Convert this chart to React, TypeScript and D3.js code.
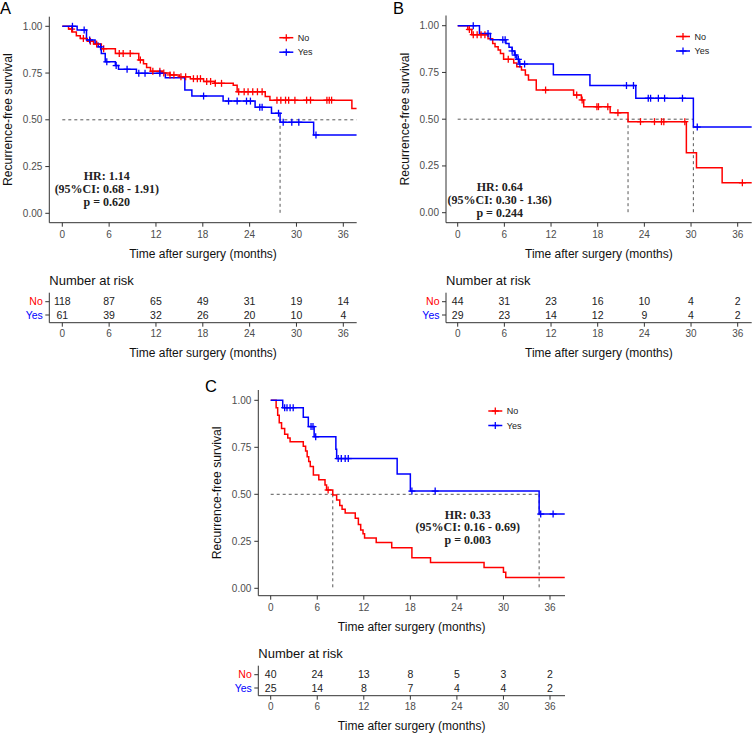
import React from "react";
import * as d3 from "d3";

// ---------- shared ticks ----------
const T_TICKS = [0, 6, 12, 18, 24, 30, 36];
const Y_TICKS = [0, 0.25, 0.5, 0.75, 1];
const GROUPS = ["No", "Yes"];

// ---------- Panel A ----------
const A_NO_TIME = [0, 0.8, 1.3, 1.8, 2.3, 3.2, 4.0, 5.0, 6.8, 9.8, 10.4, 10.8, 11.3, 12.8, 13.8, 15.0, 16.4, 18.1, 19.5, 21.9, 22.4, 26.0, 26.6, 37.1];
const A_NO_SURV = [1, 0.985, 0.97, 0.95, 0.935, 0.92, 0.905, 0.88, 0.855, 0.82, 0.8, 0.78, 0.76, 0.75, 0.74, 0.73, 0.72, 0.705, 0.695, 0.685, 0.65, 0.625, 0.605, 0.56];
const A_NO_CENSOR = [1.2, 2.7, 3.6, 4.4, 5.3, 7.3, 7.8, 8.7, 10.0, 11.6, 12.5, 13.0, 13.8, 14.3, 15.2, 15.8, 16.8, 17.3, 17.7, 18.5, 19.0, 19.6, 20.4, 22.6, 23.3, 23.8, 24.4, 25.0, 25.6, 27.5, 28.0, 28.6, 29.0, 29.8, 31.3, 31.8, 33.9, 34.2, 34.5];
const A_YES_TIME = [0, 1.9, 3.1, 4.2, 4.6, 5.0, 5.5, 6.8, 7.2, 9.5, 13.2, 15.7, 16.6, 20.6, 24.7, 26.8, 27.9, 32.2];
const A_YES_SURV = [1, 0.98, 0.927, 0.909, 0.89, 0.855, 0.81, 0.79, 0.77, 0.749, 0.725, 0.66, 0.627, 0.6, 0.567, 0.535, 0.487, 0.419];
const A_YES_CENSOR = [1.3, 2.8, 3.5, 4.9, 5.7, 6.9, 8.3, 9.8, 10.6, 12.5, 18.1, 21.3, 22.4, 23.6, 24.1, 25.3, 25.6, 27.7, 28.3, 29.4, 30.3, 32.5];
const A_END = 37.7;
const A_RISK_NO = [118, 87, 65, 49, 31, 19, 14];
const A_RISK_YES = [61, 39, 32, 26, 20, 10, 4];
const A_STATS = ["HR: 1.14", "(95%CI: 0.68 - 1.91)", "p = 0.620"];

// ---------- Panel B ----------
const B_NO_TIME = [0, 1.3, 1.8, 3.9, 4.5, 4.8, 5.2, 5.5, 5.9, 7.2, 7.6, 8.2, 8.7, 9.1, 10.1, 14.9, 15.9, 16.2, 19.6, 21.9, 29.4, 30.7, 34.0];
const B_NO_SURV = [1, 0.98, 0.952, 0.93, 0.905, 0.888, 0.87, 0.852, 0.82, 0.8, 0.781, 0.763, 0.736, 0.71, 0.656, 0.629, 0.603, 0.567, 0.534, 0.487, 0.321, 0.24, 0.16];
const B_NO_CENSOR = [1.5, 2.0, 2.5, 3.0, 3.5, 6.5, 11.3, 15.3, 16.0, 17.9, 18.1, 19.3, 20.6, 23.5, 25.3, 26.2, 26.5, 29.2, 36.6];
const B_YES_TIME = [0, 2.8, 4.2, 6.2, 6.6, 7.0, 7.3, 7.6, 7.9, 12.3, 17.0, 22.9, 30.3];
const B_YES_SURV = [1, 0.958, 0.925, 0.905, 0.885, 0.865, 0.843, 0.82, 0.795, 0.738, 0.68, 0.612, 0.458];
const B_YES_CENSOR = [2.0, 3.9, 5.8, 6.1, 7.0, 7.4, 7.8, 8.0, 8.6, 21.7, 22.6, 24.5, 24.8, 25.8, 26.6, 28.9, 30.8];
const B_END = 37.8;
const B_RISK_NO = [44, 31, 23, 16, 10, 4, 2];
const B_RISK_YES = [29, 23, 14, 12, 9, 4, 2];
const B_STATS = ["HR: 0.64", "(95%CI: 0.30 - 1.36)", "p = 0.244"];

// ---------- Panel C ----------
const C_NO_TIME = [0, 0.7, 0.9, 1.1, 1.4, 1.8, 2.2, 2.5, 4.2, 4.5, 4.7, 4.9, 5.1, 5.5, 6.2, 7.0, 7.2, 8.0, 8.5, 8.9, 9.2, 9.6, 10.9, 11.3, 11.6, 11.9, 12.1, 13.6, 15.6, 18.2, 20.6, 27.5, 30.0, 30.3];
const C_NO_SURV = [1, 0.96, 0.92, 0.88, 0.85, 0.82, 0.8, 0.78, 0.755, 0.73, 0.7, 0.675, 0.648, 0.603, 0.578, 0.55, 0.523, 0.496, 0.47, 0.44, 0.42, 0.4, 0.372, 0.34, 0.31, 0.29, 0.268, 0.243, 0.216, 0.163, 0.137, 0.11, 0.085, 0.058];
const C_NO_CENSOR = [7.4];
const C_YES_TIME = [0, 1.55, 4.2, 4.85, 5.6, 8.4, 8.5, 16.3, 18.0, 34.6];
const C_YES_SURV = [1, 0.961, 0.91, 0.86, 0.806, 0.74, 0.69, 0.608, 0.517, 0.395];
const C_YES_CENSOR = [1.8, 2.1, 2.5, 2.9, 5.2, 5.45, 5.8, 8.7, 9.1, 9.6, 10.0, 18.2, 21.2, 34.8, 36.4];
const C_END = 37.9;
const C_RISK_NO = [40, 24, 13, 8, 5, 3, 2];
const C_RISK_YES = [25, 14, 8, 7, 4, 4, 2];
const C_STATS = ["HR: 0.33", "(95%CI: 0.16 - 0.69)", "p = 0.003"];

const RED = "#FF0000";
const BLUE = "#0000FF";
const SANS = "'Liberation Sans', Arial, sans-serif";
const SERIF = "'Liberation Serif', 'Times New Roman', serif";
const AXIS = "#333333";
const TXT = "#4D4D4D";

type Layout = {
  label: string;
  lx: number; ly: number;
  axL: number; axR: number; x0: number; x36: number;
  axT: number; axB: number; y1: number; y0: number;
  statT: number; statS: number;
};

type Series = { time: number[]; surv: number[]; censor: number[] };

function survAt(s: Series, t: number) {
  let v = s.surv[0];
  for (let i = 0; i < s.time.length; i++) if (s.time[i] <= t) v = s.surv[i];
  return v;
}
function median(s: Series): number | null {
  for (let i = 0; i < s.time.length; i++) if (s.surv[i] <= 0.5) return s.time[i];
  return null;
}

function Panel({ L, no, yes, end, riskNo, riskYes, stats }: {
  L: Layout; no: Series; yes: Series; end: number; riskNo: number[]; riskYes: number[]; stats: string[];
}) {
  const x = d3.scaleLinear().domain([0, 36]).range([L.x0, L.x36]);
  const y = d3.scaleLinear().domain([0, 1]).range([L.y0, L.y1]);
  const line = d3.line<[number, number]>().x(d => x(d[0])).y(d => y(d[1])).curve(d3.curveStepAfter);
  const series = [{ s: no, c: RED }, { s: yes, c: BLUE }];
  const meds = series.map(d => median(d.s));
  const hEnd = meds.some(m => m === null) ? end : Math.max(...(meds as number[]));
  const midX = (L.axL + L.axR) / 2;
  const B = L.axB;
  const rowNo = B + 79, rowYes = B + 92.3, tAx = B + 100;
  const cross = (cx: number, cy: number, c: string, k: string) => (
    <g key={k} stroke={c} strokeWidth={1.3}>
      <line x1={cx - 3.5} x2={cx + 3.5} y1={cy} y2={cy} />
      <line x1={cx} x2={cx} y1={cy - 3.5} y2={cy + 3.5} />
    </g>
  );
  return (
    <g>
      <text x={L.lx} y={L.ly} fontFamily={SANS} fontSize={16.5} fill="#000">{L.label}</text>
      {/* y axis title */}
      <text transform={`translate(${L.axL - 37},${(L.axT + L.axB) / 2}) rotate(-90)`} textAnchor="middle"
        fontFamily={SANS} fontSize={12.2} fill="#111">Recurrence-free survival</text>
      {/* axes */}
      <line x1={L.axL} x2={L.axL} y1={L.axT} y2={L.axB} stroke={AXIS} strokeWidth={1} />
      <line x1={L.axL} x2={L.axR} y1={L.axB} y2={L.axB} stroke={AXIS} strokeWidth={1} />
      {Y_TICKS.map(v => (
        <g key={"y" + v}>
          <line x1={L.axL - 4} x2={L.axL} y1={y(v)} y2={y(v)} stroke={AXIS} />
          <text x={L.axL - 7} y={y(v)} dy="0.35em" textAnchor="end" fontFamily={SANS} fontSize={10} fill={TXT}>{v.toFixed(2)}</text>
        </g>
      ))}
      {T_TICKS.map(v => (
        <g key={"x" + v}>
          <line x1={x(v)} x2={x(v)} y1={B} y2={B + 4} stroke={AXIS} />
          <text x={x(v)} y={B + 11.5} dy="0.35em" textAnchor="middle" fontFamily={SANS} fontSize={10} fill={TXT}>{v}</text>
        </g>
      ))}
      <text x={midX} y={B + 31} dy="0.35em" textAnchor="middle" fontFamily={SANS} fontSize={12} fill="#111">Time after surgery (months)</text>
      {/* median lines */}
      <line x1={x(0)} x2={x(hEnd)} y1={y(0.5)} y2={y(0.5)} stroke="#444" strokeWidth={0.9} strokeDasharray="3,3" />
      {meds.map((m, i) => m === null ? null : (
        <line key={"m" + i} x1={x(m)} x2={x(m)} y1={y(0.5)} y2={y(0)} stroke="#444" strokeWidth={0.9} strokeDasharray="3,3" />
      ))}
      {/* curves */}
      {series.map((d, i) => {
        const pts: [number, number][] = d.s.time.map((t, j) => [t, d.s.surv[j]] as [number, number]);
        pts.push([end, d.s.surv[d.s.surv.length - 1]]);
        return <path key={"c" + i} d={line(pts) || ""} fill="none" stroke={d.c} strokeWidth={1.5} />;
      })}
      {series.map((d, i) => d.s.censor.map((t, j) => cross(x(t), y(survAt(d.s, t)), d.c, `k${i}-${j}`)))}
      {/* legend */}
      {GROUPS.map((g, i) => {
        const ly = L.axT + 21 + i * 14.5;
        const c = i === 0 ? RED : BLUE;
        return (
          <g key={"l" + g}>
            <line x1={L.axL + 230} x2={L.axL + 244} y1={ly} y2={ly} stroke={c} strokeWidth={1.5} />
            {cross(L.axL + 237, ly, c, "lc" + g)}
            <text x={L.axL + 248.5} y={ly} dy="0.35em" fontFamily={SANS} fontSize={9} fill="#222">{g}</text>
          </g>
        );
      })}
      {/* stats */}
      {stats.map((s, i) => (
        <text key={"s" + i} x={x(L.statT)} y={y(L.statS) + (i - 1) * 12.8} dy="0.35em" textAnchor="middle"
          fontFamily={SERIF} fontWeight="bold" fontSize={12} fill="#222">{s}</text>
      ))}
      {/* risk table */}
      <text x={L.axL} y={B + 58} dy="0.35em" fontFamily={SANS} fontSize={13} fill="#111">Number at risk</text>
      <line x1={L.axL} x2={L.axL} y1={rowNo - 9} y2={tAx} stroke={AXIS} />
      <line x1={L.axL} x2={L.axR} y1={tAx} y2={tAx} stroke={AXIS} />
      {[rowNo, rowYes].map((ry, i) => (
        <g key={"rl" + i}>
          <line x1={L.axL - 4} x2={L.axL} y1={ry} y2={ry} stroke={AXIS} />
          <text x={L.axL - 6.5} y={ry} dy="0.35em" textAnchor="end" fontFamily={SANS} fontSize={10.5} fill={i === 0 ? RED : BLUE}>{GROUPS[i]}</text>
        </g>
      ))}
      {T_TICKS.map((v, i) => (
        <g key={"r" + v}>
          <text x={x(v)} y={rowNo} dy="0.35em" textAnchor="middle" fontFamily={SANS} fontSize={10.5} fill="#222">{riskNo[i]}</text>
          <text x={x(v)} y={rowYes} dy="0.35em" textAnchor="middle" fontFamily={SANS} fontSize={10.5} fill="#222">{riskYes[i]}</text>
          <line x1={x(v)} x2={x(v)} y1={tAx} y2={tAx + 4} stroke={AXIS} />
          <text x={x(v)} y={tAx + 10.5} dy="0.35em" textAnchor="middle" fontFamily={SANS} fontSize={10} fill={TXT}>{v}</text>
        </g>
      ))}
      <text x={midX} y={B + 130} dy="0.35em" textAnchor="middle" fontFamily={SANS} fontSize={12} fill="#111">Time after surgery (months)</text>
    </g>
  );
}

const LA: Layout = { label: "A", lx: 0, ly: 13.5, axL: 49.3, axR: 356.7, x0: 62.3, x36: 343.3, axT: 16.7, axB: 222.7, y1: 26.3, y0: 213.3, statT: 5.7, statS: 0.13 };
const LB: Layout = { label: "B", lx: 393, ly: 13.5, axL: 446, axR: 751.7, x0: 457.7, x36: 737.7, axT: 15.5, axB: 222.7, y1: 25.7, y0: 212.7, statT: 5.4, statS: 0.07 };
const LC: Layout = { label: "C", lx: 205, ly: 392, axL: 258.3, axR: 565, x0: 270.7, x36: 550, axT: 390, axB: 595.7, y1: 400.3, y0: 588.3, statT: 25.4, statS: 0.325 };

export default function App() {
  return (
    <svg width={756} height={737} style={{ position: "absolute", left: 0, top: 0, background: "#fff" }}>
      <rect width={756} height={737} fill="#fff" />
      <Panel L={LA} no={{ time: A_NO_TIME, surv: A_NO_SURV, censor: A_NO_CENSOR }} yes={{ time: A_YES_TIME, surv: A_YES_SURV, censor: A_YES_CENSOR }}
        end={A_END} riskNo={A_RISK_NO} riskYes={A_RISK_YES} stats={A_STATS} />
      <Panel L={LB} no={{ time: B_NO_TIME, surv: B_NO_SURV, censor: B_NO_CENSOR }} yes={{ time: B_YES_TIME, surv: B_YES_SURV, censor: B_YES_CENSOR }}
        end={B_END} riskNo={B_RISK_NO} riskYes={B_RISK_YES} stats={B_STATS} />
      <Panel L={LC} no={{ time: C_NO_TIME, surv: C_NO_SURV, censor: C_NO_CENSOR }} yes={{ time: C_YES_TIME, surv: C_YES_SURV, censor: C_YES_CENSOR }}
        end={C_END} riskNo={C_RISK_NO} riskYes={C_RISK_YES} stats={C_STATS} />
    </svg>
  );
}
